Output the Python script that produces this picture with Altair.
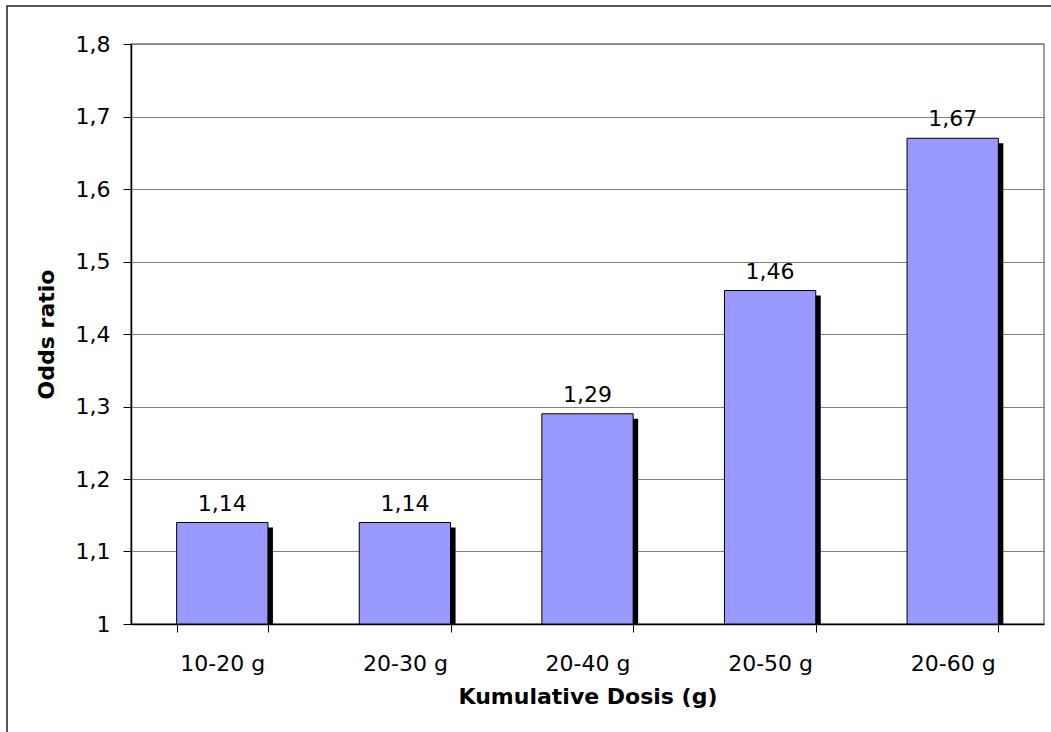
import altair as alt
import pandas as pd

# Odds ratio by cumulative dose range
categories = ["10-20 g", "20-30 g", "20-40 g", "20-50 g", "20-60 g"]
odds_ratio = [1.14, 1.14, 1.29, 1.46, 1.67]
y_ticks = [1.0, 1.1, 1.2, 1.3, 1.4, 1.5, 1.6, 1.7, 1.8]

df = pd.DataFrame({"dose": categories, "odds": odds_ratio})

FONT = "DejaVu Sans"
W, H = 913, 580

x_enc = alt.X(
    "dose:N",
    sort=categories,
    title="Kumulative Dosis (g)",
    scale=alt.Scale(paddingInner=0.5, paddingOuter=0.25),
    axis=alt.Axis(
        labelAngle=0,
        tickBand="extent",
        tickSize=8,
        labelPadding=21,
        titlePadding=12,
    ),
)
y_scale = alt.Scale(domain=[1.0, 1.8], nice=False, zero=False)
y_enc = alt.Y(
    "odds:Q",
    title="Odds ratio",
    scale=y_scale,
    axis=alt.Axis(
        values=y_ticks,
        tickSize=8,
        labelPadding=13,
        titlePadding=17,
        labelExpr="replace(format(datum.value, '~g'), '.', ',')",
        grid=True,
    ),
)

base = alt.Chart(df)

# drop shadow behind each bar
shadow = base.mark_bar(color="black", xOffset=5, yOffset=5).encode(
    x=x_enc, y=y_enc, y2=alt.datum(1.0)
)

bars = base.mark_bar(fill="#9999FF", stroke="black", strokeWidth=1).encode(
    x=x_enc, y=y_enc, y2=alt.datum(1.0)
)

labels = (
    base.transform_calculate(label="replace(format(datum.odds, '.2f'), '.', ',')")
    .mark_text(baseline="alphabetic", dy=-12, fontSize=22, font=FONT, color="black")
    .encode(x=x_enc, y=y_enc, text="label:N")
)

# outer frame of the chart area
frame = alt.Chart(pd.DataFrame({"k": [0]})).mark_rect(
    fill=None, stroke="#222222", strokeWidth=1.5
).encode(
    x=alt.value(-124), x2=alt.value(W + 20), y=alt.value(-38), y2=alt.value(H + 130)
)

chart = (
    alt.layer(frame, shadow, bars, labels)
    .properties(
        width=W,
        height=H,
        autosize=alt.AutoSizeParams(type="none"),
        padding={"left": 131, "top": 44, "right": 7, "bottom": 108},
        background="white",
    )
    .configure_view(stroke="#808080", strokeWidth=1.5)
    .configure_axis(
        labelFont=FONT,
        titleFont=FONT,
        labelFontSize=22,
        titleFontSize=22,
        titleFontWeight="bold",
        labelColor="black",
        titleColor="black",
        domainColor="black",
        domainWidth=1.5,
        tickColor="black",
        tickWidth=1,
        gridColor="#808080",
        gridWidth=1,
    )
    .configure_axisX(grid=False)
)

chart.save("out.html", embed_options={"renderer": "svg", "actions": False})
